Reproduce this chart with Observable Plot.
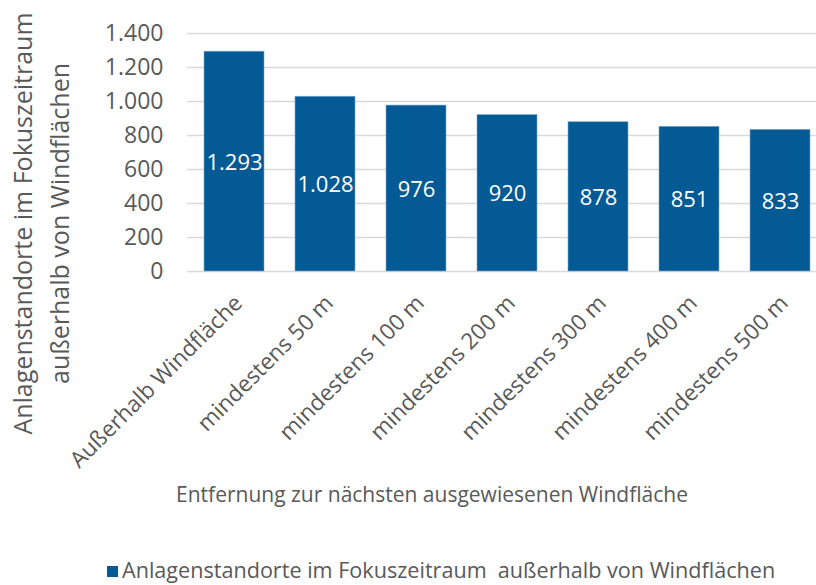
<!DOCTYPE html>
<html>
<head>
<meta charset="utf-8">
<script src="https://cdn.jsdelivr.net/npm/d3@7"></script>
<script src="https://cdn.jsdelivr.net/npm/@observablehq/plot@0.6"></script>
<style>
  html, body { margin: 0; padding: 0; background: white; }
  #wrap { position: relative; width: 816px; height: 585px; overflow: hidden; font-family: "Open Sans", sans-serif; }
  #legend { position: absolute; left: 107px; top: 558px; display: flex; align-items: center; color: #595959; font-size: 21.6px; line-height: 24px; white-space: pre; }
  #legend .sw { width: 11px; height: 11px; background: #035a94; margin-right: 4px; margin-top: 2px; }
</style>
</head>
<body>
<div id="wrap"><div id="chart"></div><div id="legend"></div></div>
<script>
const categories = ["Außerhalb Windfläche", "mindestens 50 m", "mindestens 100 m", "mindestens 200 m", "mindestens 300 m", "mindestens 400 m", "mindestens 500 m"];
const values = [1293, 1028, 976, 920, 878, 851, 833];
const yTicks = [0, 200, 400, 600, 800, 1000, 1200, 1400];
const seriesName = "Anlagenstandorte im Fokuszeitraum  außerhalb von Windflächen";
const xTitle = "Entfernung zur nächsten ausgewiesenen Windfläche";
const yTitle1 = "Anlagenstandorte im Fokuszeitraum";
const yTitle2 = "außerhalb von Windflächen";

const data = categories.map((c, i) => ({cat: c, value: values[i]}));
const de = d3.formatLocale({decimal: ",", thousands: ".", grouping: [3], currency: ["", "€"]});
const fmt = de.format(",d");
const barColor = "#035a94";
const textColor = "#595959";

const chart = Plot.plot({
  width: 816,
  height: 520,
  marginLeft: 187,
  marginRight: 0,
  marginTop: 33,
  marginBottom: 249,
  style: {fontFamily: "Open Sans", color: textColor, background: "white", overflow: "visible"},
  x: {domain: categories, range: [187, 827], paddingInner: 0.343, paddingOuter: 0.1715, label: null},
  y: {domain: [0, 1400], label: null},
  marks: [
    Plot.ruleY(yTicks, {stroke: "#d9d9d9", strokeWidth: 1.5}),
    Plot.barY(data, {x: "cat", y: "value", fill: barColor, stroke: "#7fa8cc", strokeWidth: 0.6}),
    Plot.text(data, {x: "cat", y: d => d.value / 2, text: d => fmt(d.value), fill: "white", fontSize: 22, dy: 1}),
    Plot.axisY({ticks: yTicks, tickSize: 0, tickPadding: 24, tickFormat: fmt, fontSize: 23, label: null}),
    Plot.axisX({tickSize: 0, tickRotate: -45, tickPadding: 28, dx: 4, fontSize: 22.5, label: null}),
    Plot.text([xTitle], {frameAnchor: "bottom", text: d => d, dx: -70, dy: 230, fontSize: 21, fill: textColor}),
    Plot.text([yTitle1], {frameAnchor: "left", text: d => d, rotate: -90, textAnchor: "middle", dx: -164, dy: 71, fontSize: 25, fill: textColor}),
    Plot.text([yTitle2], {frameAnchor: "left", text: d => d, rotate: -90, textAnchor: "middle", dx: -127, dy: 71, fontSize: 25, fill: textColor})
  ]
});
document.getElementById("chart").appendChild(chart);

const legend = document.getElementById("legend");
const sw = document.createElement("span");
sw.className = "sw";
const lt = document.createElement("span");
lt.textContent = seriesName;
legend.appendChild(sw);
legend.appendChild(lt);
</script>
</body>
</html>
